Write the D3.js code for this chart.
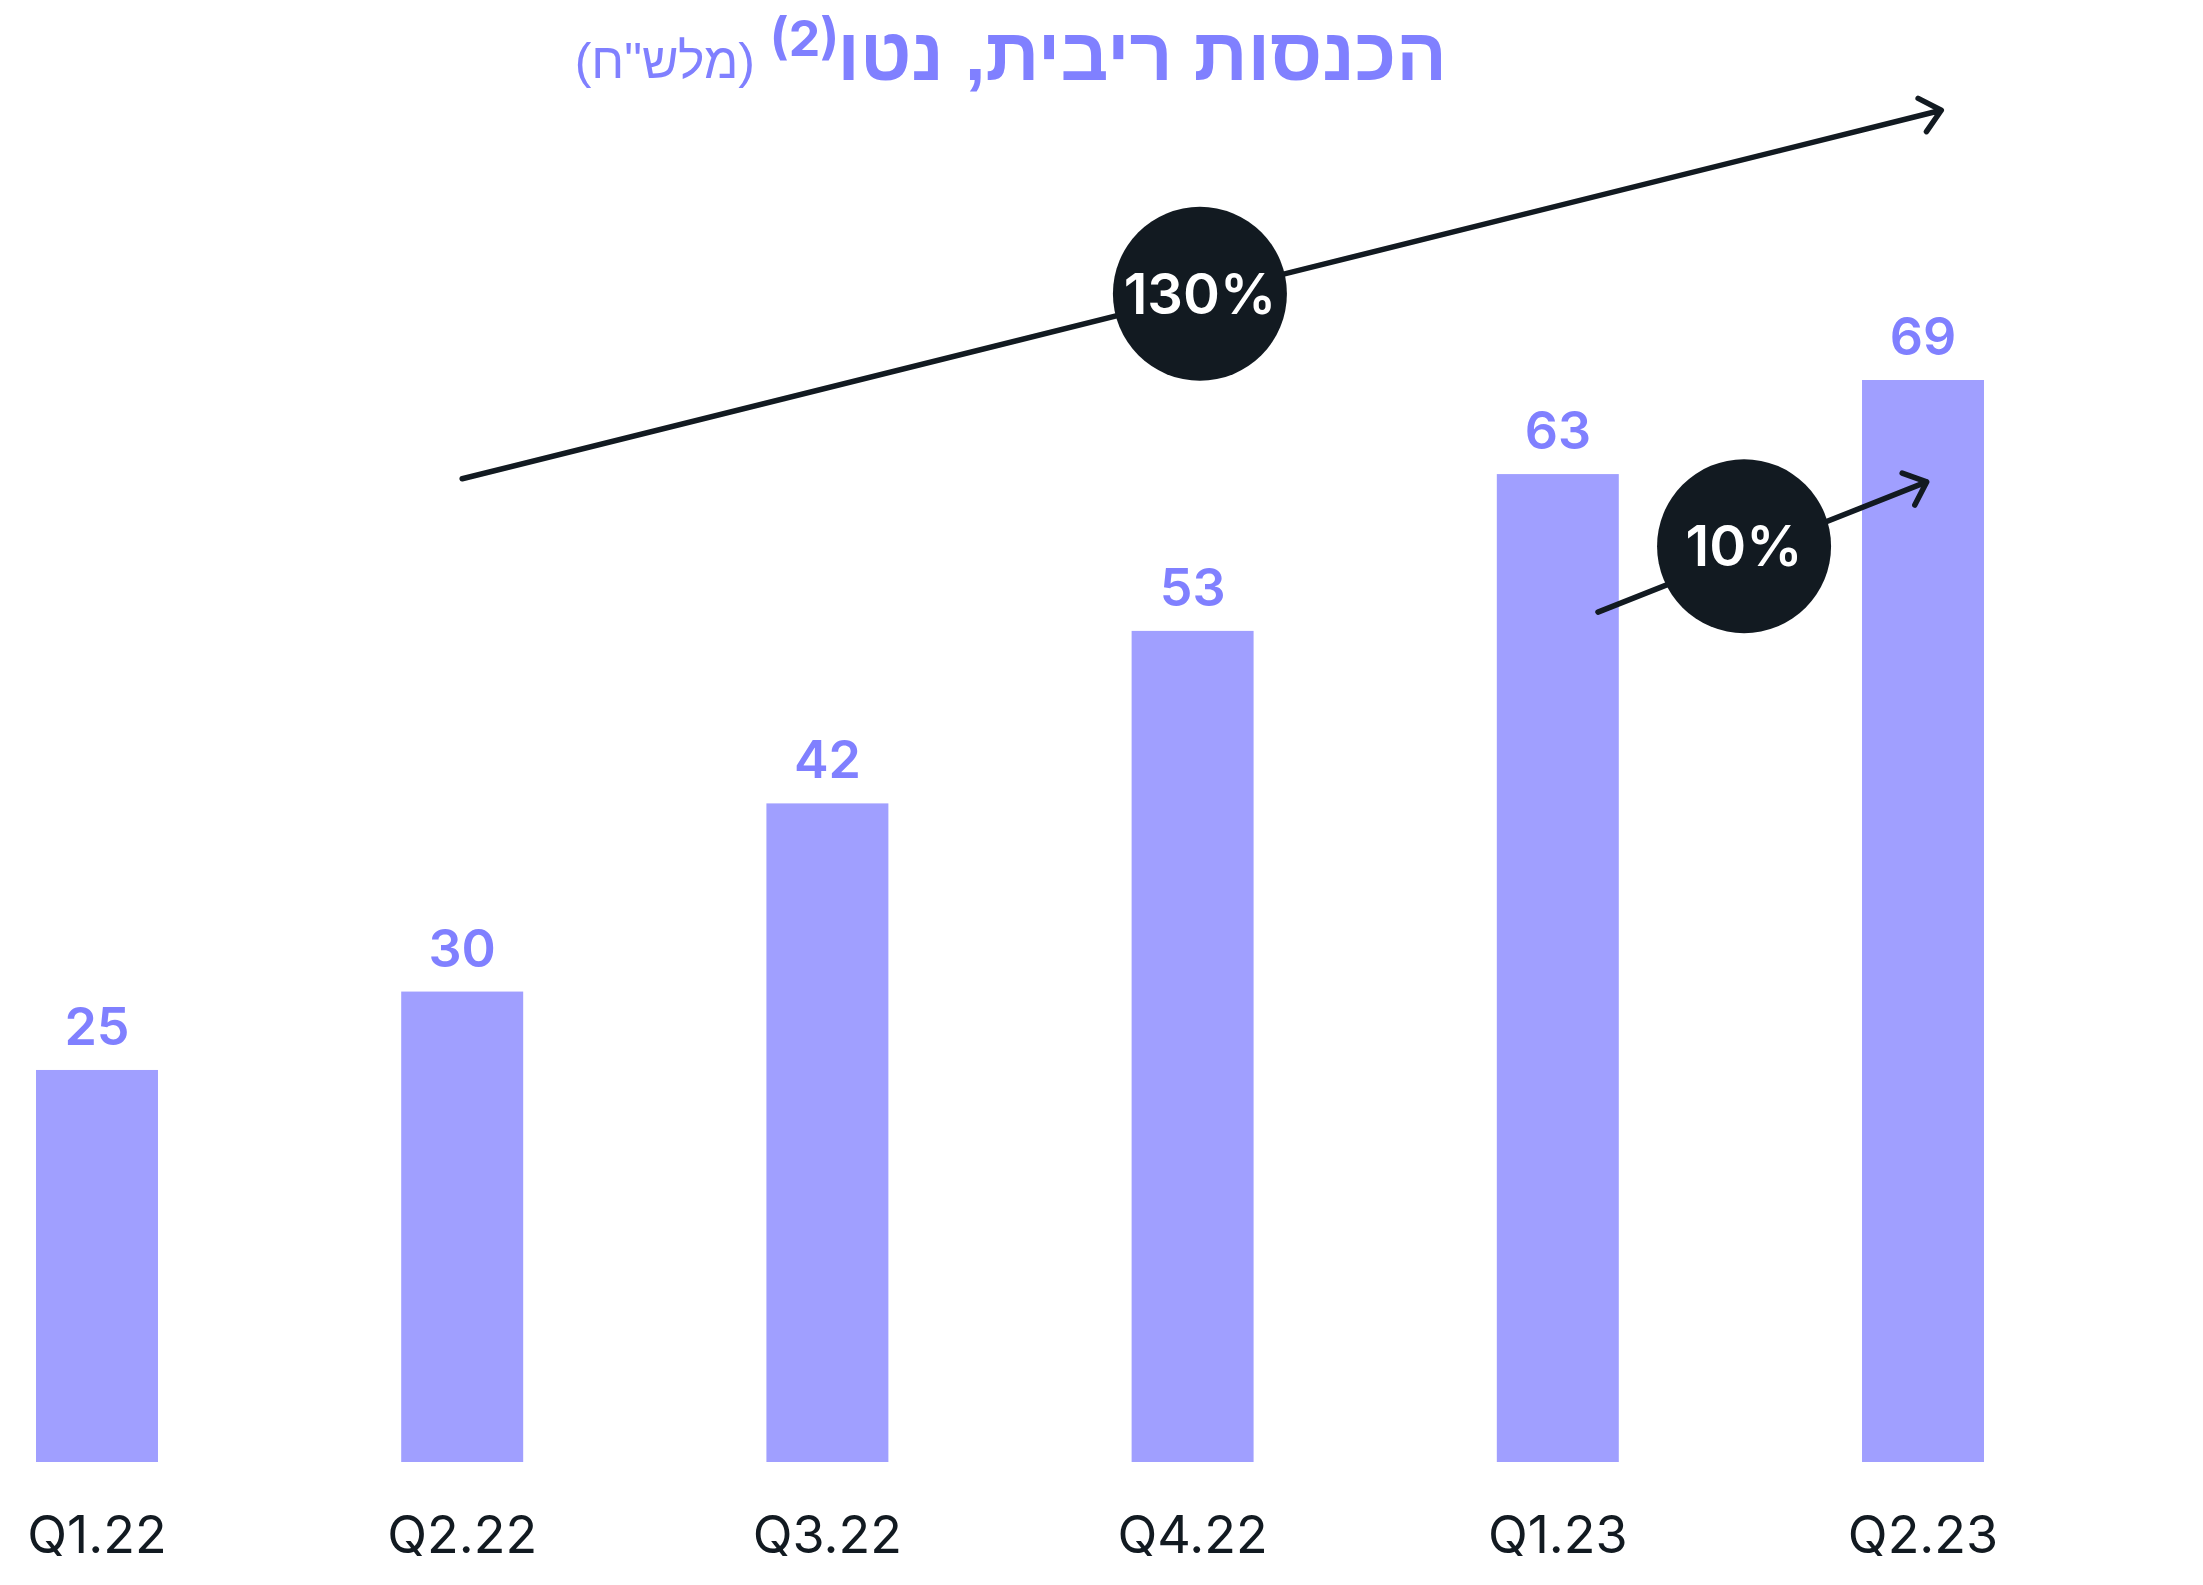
<!DOCTYPE html>
<html>
<head>
<meta charset="utf-8">
<script src="https://cdnjs.cloudflare.com/ajax/libs/d3/7.8.5/d3.min.js"></script>
<style>
  body { margin: 0; background: #fff; }
  text { font-family: Inter, "Liberation Sans", sans-serif; }
</style>
</head>
<body>
<div id="chart"></div>
<script>
var quarters = ['Q1.22', 'Q2.22', 'Q3.22', 'Q4.22', 'Q1.23', 'Q2.23']
var values = [25, 30, 42, 53, 63, 69]

// growth annotations: x as bar index (fractional), y in chart units
var growthLabels = ['130%', '10%']
var arrowFrom = [[1, 62.7], [4.11, 54.2]]
var arrowTo = [[5.05, 86.2], [5.01, 62.5]]
var badgeAt = [[3.02, 74.5], [4.51, 58.4]]

var title = 'הכנסות ריבית, נטו'
var titleNote = '(2)'
var subtitle = '(מלש"ח)'

var W = 2203, H = 1585
var purple = '#8080ff', barColor = '#a09fff', dark = '#121a21'

var svg = d3.select('#chart').append('svg')
  .attr('width', W).attr('height', H)

var x = d3.scaleBand().domain(quarters).range([36, 1984]).paddingInner(0.666).paddingOuter(0)
var y = d3.scaleLinear().domain([0, 69]).range([1462, 380])
var xi = d3.scaleLinear().domain([0, 1]).range([x(quarters[0]) + x.bandwidth() / 2, x(quarters[1]) + x.bandwidth() / 2])

svg.selectAll('rect.bar').data(values).join('rect')
  .attr('class', 'bar')
  .attr('x', (d, i) => x(quarters[i]))
  .attr('y', d => y(d))
  .attr('width', x.bandwidth())
  .attr('height', d => y(0) - y(d))
  .attr('fill', barColor)

svg.selectAll('text.val').data(values).join('text')
  .attr('class', 'val')
  .attr('x', (d, i) => x(quarters[i]) + x.bandwidth() / 2)
  .attr('y', d => y(d) - 25)
  .attr('text-anchor', 'middle')
  .attr('font-size', 52).attr('font-weight', 600)
  .attr('fill', purple)
  .text(d => d)

// category axis, no line or ticks
var axis = svg.append('g')
  .attr('transform', 'translate(0,' + y(0) + ')')
  .call(d3.axisBottom(x).tickSize(0).tickPadding(0))
axis.select('.domain').remove()
axis.selectAll('text')
  .attr('y', 91).attr('dy', 0)
  .attr('font-size', 52).attr('fill', dark)
  .style('font-family', 'Inter, sans-serif')

// arrows
function arrow(from, to) {
  var x0 = xi(from[0]), y0 = y(from[1]), x1 = xi(to[0]), y1 = y(to[1])
  var a = Math.atan2(y1 - y0, x1 - x0), len = 26, spread = 0.72
  var p = d3.path()
  p.moveTo(x0, y0); p.lineTo(x1, y1)
  p.moveTo(x1 - len * Math.cos(a - spread), y1 - len * Math.sin(a - spread))
  p.lineTo(x1, y1)
  p.lineTo(x1 - len * Math.cos(a + spread), y1 - len * Math.sin(a + spread))
  return p.toString()
}

growthLabels.forEach(function(lbl, i) {
  svg.append('path')
    .attr('d', arrow(arrowFrom[i], arrowTo[i]))
    .attr('fill', 'none').attr('stroke', dark)
    .attr('stroke-width', 5.5).attr('stroke-linecap', 'round').attr('stroke-linejoin', 'round')
  var cx = xi(badgeAt[i][0]), cy = y(badgeAt[i][1])
  svg.append('circle').attr('cx', cx).attr('cy', cy).attr('r', 87).attr('fill', dark)
  svg.append('text')
    .attr('x', cx).attr('y', cy + 20)
    .attr('text-anchor', 'middle')
    .attr('font-size', 56).attr('font-weight', 600)
    .attr('fill', '#fff')
    .text(lbl)
})

// title
svg.append('text')
  .attr('x', 1447).attr('y', 80)
  .attr('text-anchor', 'end')
  .style('font-family', '"Liberation Sans", Arial, sans-serif')
  .attr('font-size', 75).attr('font-weight', 700)
  .attr('fill', purple)
  .text(title)

svg.append('text')
  .attr('x', 839).attr('y', 56)
  .attr('text-anchor', 'end')
  .style('font-family', 'Inter, sans-serif')
  .attr('font-size', 50).attr('font-weight', 700)
  .attr('fill', purple)
  .text(titleNote)

svg.append('text')
  .attr('x', 755).attr('y', 78)
  .attr('text-anchor', 'end')
  .style('font-family', '"Liberation Sans", Arial, sans-serif')
  .attr('font-size', 50).attr('font-weight', 400)
  .attr('fill', purple)
  .text(subtitle)
</script>
</body>
</html>
